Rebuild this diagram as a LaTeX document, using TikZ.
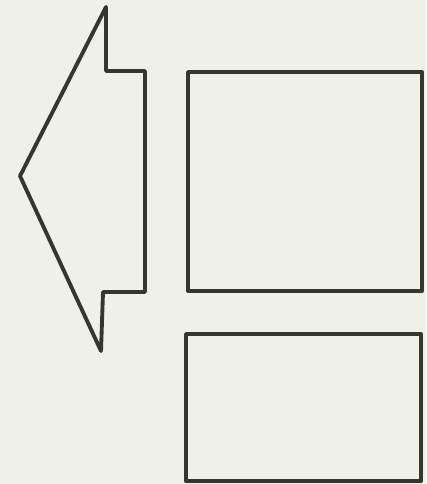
\documentclass[tikz,border=0pt]{standalone}
\usepackage{tikz}

\definecolor{paper}{HTML}{EFF0E6}
\definecolor{ink}{HTML}{36362F}

\begin{document}
\begin{tikzpicture}[x=0.75pt, y=-0.75pt, line width=2.9pt, line join=round]

\fill[paper] (0,0) rectangle (426,484);
\useasboundingbox (0,0) rectangle (426,484);

% arrow pointing left
\draw[ink] (106,7) -- (106,71) -- (145,71) -- (145,292) -- (103,292) -- (101,351) -- (20,176) -- cycle;

% boxes
\draw[ink] (188,72) rectangle (422,291);
\draw[ink] (186,334) rectangle (421,481);

\end{tikzpicture}
\end{document}
